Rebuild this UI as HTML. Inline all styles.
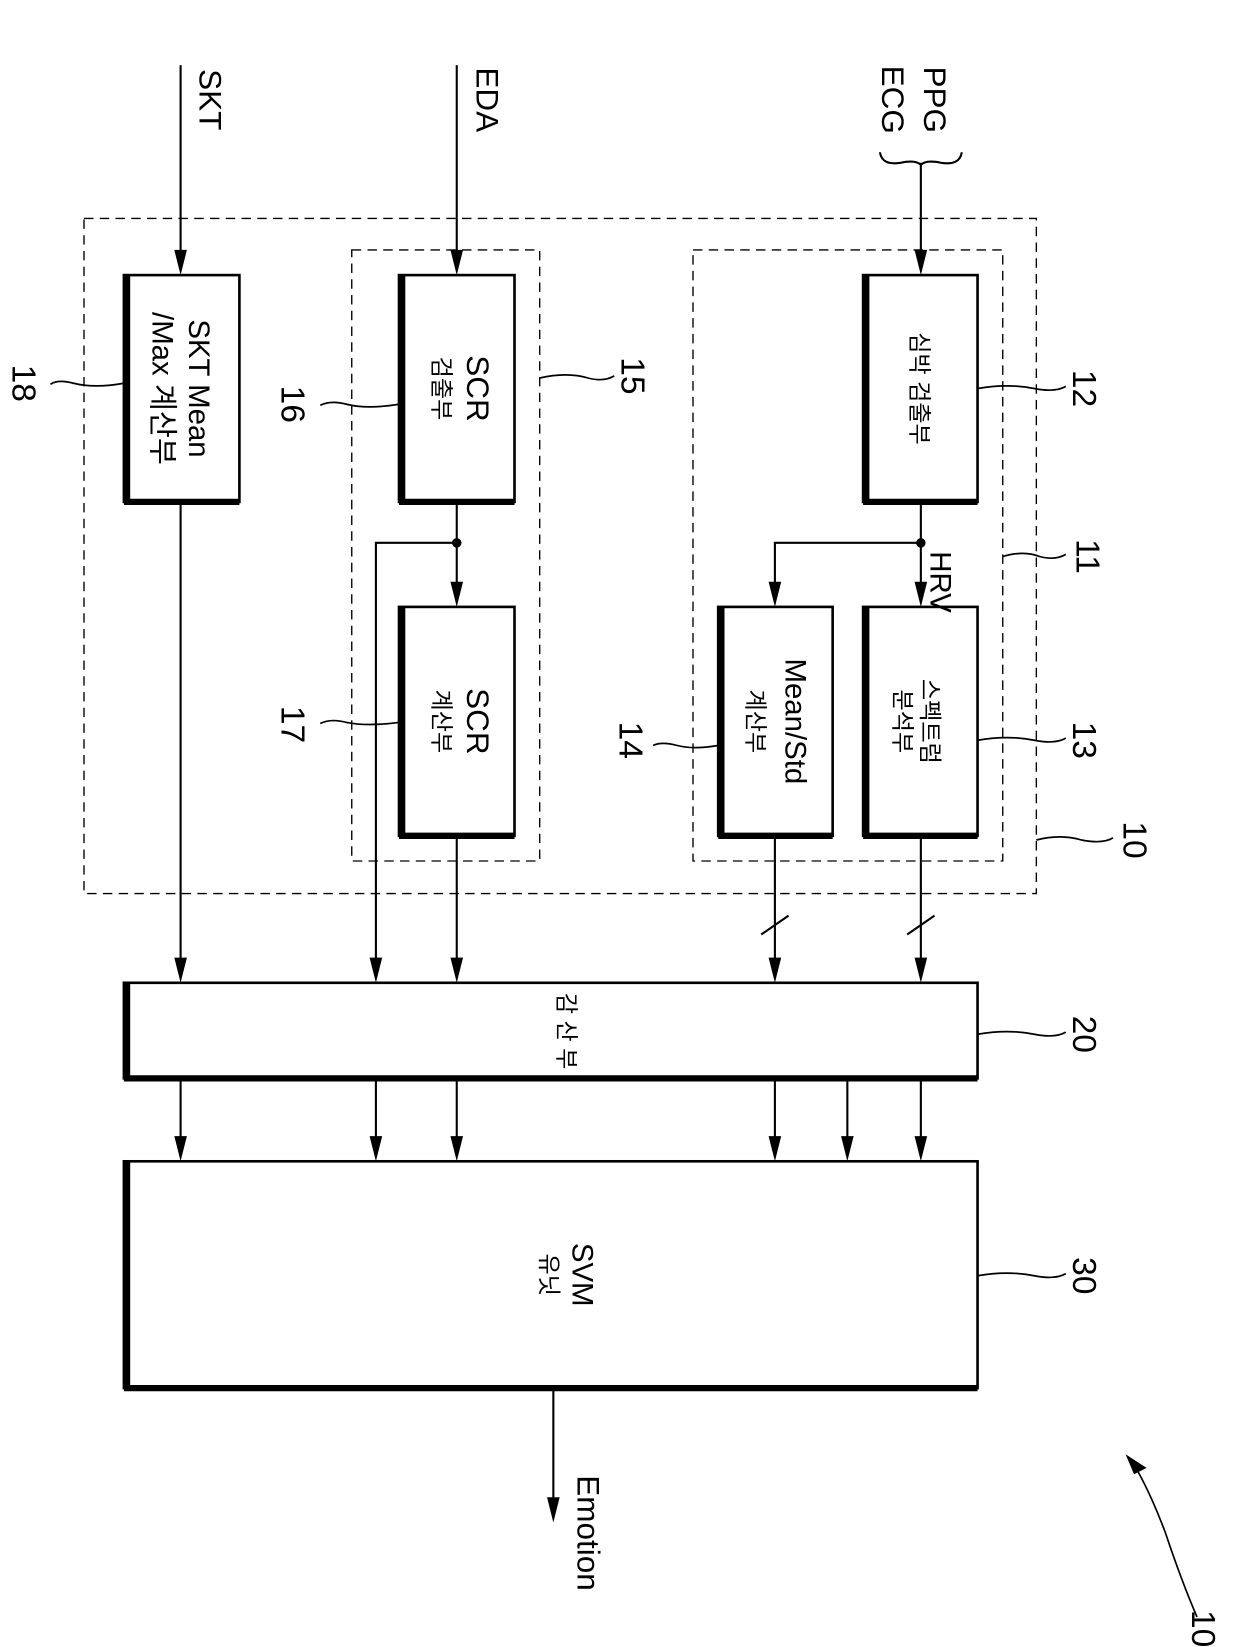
<!DOCTYPE html>
<html><head><meta charset="utf-8"><style>
html,body{margin:0;padding:0;background:#fff;}
svg{display:block;}
text{font-family:"Liberation Sans","Noto Sans CJK KR",sans-serif;fill:#000;}
</style></head><body>
<svg width="1240" height="1647" viewBox="0 0 1240 1647" xmlns="http://www.w3.org/2000/svg">
<defs>
<marker id="ar" markerWidth="12" markerHeight="24" refX="6" refY="22" orient="auto" markerUnits="userSpaceOnUse">
<path d="M0,0 L12,0 L6,24 Z" fill="#000" transform="rotate(0)"/>
</marker>
</defs>
<g transform="scale(1.05)">
<g fill="none" stroke="#000" stroke-width="1.3" stroke-dasharray="9,6">
<rect x="80" y="208" width="907" height="643"/>
<rect x="335" y="238" width="179" height="582"/>
<rect x="660" y="238" width="295" height="582"/>
</g>
<g fill="#fff" stroke="#000" stroke-width="2.5">
<rect x="118" y="262" width="110" height="216"/>
<rect x="380" y="262" width="110" height="216"/>
<rect x="380" y="578" width="110" height="218"/>
<rect x="684" y="578" width="109" height="218"/>
<rect x="822" y="262" width="109" height="216"/>
<rect x="822" y="578" width="109" height="218"/>
<rect x="118" y="936" width="813" height="91"/>
<rect x="118" y="1106" width="813" height="216"/>
</g>
<g stroke="#000" stroke-width="6" fill="none">
<path d="M121,262 V478 H228"/>
<path d="M383,262 V478 H490"/>
<path d="M383,578 V796 H490"/>
<path d="M687,578 V796 H793"/>
<path d="M825,262 V478 H931"/>
<path d="M825,578 V796 H931"/>
<path d="M121,936 V1027 H931"/>
<path d="M121,1106 V1322 H931"/>
</g>
<g stroke="#000" stroke-width="2" fill="none">
<line x1="172" y1="62" x2="172" y2="240"/>
<line x1="435" y1="62" x2="435" y2="240"/>
<line x1="877" y1="155" x2="877" y2="240"/>
<path d="M838,145 Q840,158 858,155 Q872,152 877,157 Q882,152 896,155 Q914,158 916,145"/>
<line x1="877" y1="478" x2="877" y2="556"/>
<path d="M877,517 H738 V556"/>
<line x1="435" y1="478" x2="435" y2="556"/>
<path d="M435,517 H358 V914"/>
<line x1="877" y1="796" x2="877" y2="914"/>
<line x1="738" y1="796" x2="738" y2="914"/>
<line x1="435" y1="796" x2="435" y2="914"/>
<line x1="172" y1="478" x2="172" y2="914"/>
<line x1="864" y1="890" x2="890" y2="872"/>
<line x1="725" y1="890" x2="751" y2="872"/>
<line x1="172" y1="1027" x2="172" y2="1084"/>
<line x1="358" y1="1027" x2="358" y2="1084"/>
<line x1="435" y1="1027" x2="435" y2="1084"/>
<line x1="738" y1="1027" x2="738" y2="1084"/>
<line x1="807" y1="1027" x2="807" y2="1084"/>
<line x1="877" y1="1027" x2="877" y2="1084"/>
<line x1="527" y1="1322" x2="527" y2="1428"/>
</g>
<g fill="#000">
<circle cx="877" cy="517" r="4.5"/>
<circle cx="435" cy="517" r="4.5"/>
<path d="M166,238 L178,238 L172,262 Z"/>
<path d="M429,238 L441,238 L435,262 Z"/>
<path d="M871,238 L883,238 L877,262 Z"/>
<path d="M871,554 L883,554 L877,578 Z"/>
<path d="M732,554 L744,554 L738,578 Z"/>
<path d="M429,554 L441,554 L435,578 Z"/>
<path d="M871,912 L883,912 L877,936 Z"/>
<path d="M732,912 L744,912 L738,936 Z"/>
<path d="M429,912 L441,912 L435,936 Z"/>
<path d="M352,912 L364,912 L358,936 Z"/>
<path d="M166,912 L178,912 L172,936 Z"/>
<path d="M166,1082 L178,1082 L172,1106 Z"/>
<path d="M352,1082 L364,1082 L358,1106 Z"/>
<path d="M429,1082 L441,1082 L435,1106 Z"/>
<path d="M732,1082 L744,1082 L738,1106 Z"/>
<path d="M801,1082 L813,1082 L807,1106 Z"/>
<path d="M871,1082 L883,1082 L877,1106 Z"/>
<path d="M521,1426 L533,1426 L527,1450 Z"/>
<path d="M1072,1385 L1092,1398 L1080,1404 Z"/>
</g>
<g stroke="#000" stroke-width="1.6" fill="none">
<path d="M931,370 Q960,365 985,370 Q1005,374 1015,368"/>
<path d="M931,705 Q960,700 985,705 Q1005,709 1015,703"/>
<path d="M955,530 Q975,524 990,530 Q1005,534 1015,528"/>
<path d="M987,800 Q1010,794 1030,800 Q1050,804 1060,798"/>
<path d="M684,710 Q660,714 645,710 Q630,706 622,710"/>
<path d="M514,360 Q540,354 560,360 Q575,364 585,358"/>
<path d="M380,385 Q350,390 330,385 Q315,381 305,386"/>
<path d="M380,688 Q350,692 330,688 Q315,684 305,689"/>
<path d="M118,365 Q90,370 70,365 Q55,361 48,366"/>
<path d="M931,985 Q960,980 985,985 Q1005,989 1015,983"/>
<path d="M931,1215 Q960,1210 985,1215 Q1005,1219 1015,1213"/>
<path d="M1140,1540 Q1125,1505 1110,1460 Q1095,1420 1080,1395"/>
</g>
<g font-size="30">
<text transform="translate(190,95) rotate(90)" text-anchor="middle">SKT</text>
<text transform="translate(454,95) rotate(90)" text-anchor="middle">EDA</text>
<text transform="translate(880,95) rotate(90)" text-anchor="middle">PPG</text>
<text transform="translate(840,95) rotate(90)" text-anchor="middle">ECG</text>
<text transform="translate(886,525) rotate(90)" font-size="28">HRV</text>
<text transform="translate(550,1460) rotate(90)" text-anchor="middle">Emotion</text>
<text transform="translate(180,370) rotate(90)" text-anchor="middle" font-size="28">SKT Mean</text>
<text transform="translate(145,370) rotate(90)" text-anchor="middle" font-size="28">/Max 계산부</text>
<text transform="translate(445,370) rotate(90)" text-anchor="middle" font-size="30">SCR</text>
<text transform="translate(413,370) rotate(90)" text-anchor="middle" font-size="22">검출부</text>
<text transform="translate(445,687) rotate(90)" text-anchor="middle" font-size="30">SCR</text>
<text transform="translate(413,687) rotate(90)" text-anchor="middle" font-size="22">계산부</text>
<text transform="translate(868,370) rotate(90)" text-anchor="middle" font-size="22">심박  검출부</text>
<text transform="translate(878,687) rotate(90)" text-anchor="middle" font-size="22">스펙트럼</text>
<text transform="translate(852,687) rotate(90)" text-anchor="middle" font-size="22">분석부</text>
<text transform="translate(748,687) rotate(90)" text-anchor="middle" font-size="28">Mean/Std</text>
<text transform="translate(712,687) rotate(90)" text-anchor="middle" font-size="22">계산부</text>
<text transform="translate(532,982) rotate(90)" text-anchor="middle" font-size="22">감 산 부</text>
<text transform="translate(545,1214) rotate(90)" text-anchor="middle" font-size="28">SVM</text>
<text transform="translate(515,1214) rotate(90)" text-anchor="middle" font-size="22">유닛</text>
<text transform="translate(1022,370) rotate(90)" text-anchor="middle" font-size="32">12</text>
<text transform="translate(1022,705) rotate(90)" text-anchor="middle" font-size="32">13</text>
<text transform="translate(1025,530) rotate(90)" text-anchor="middle" font-size="32">11</text>
<text transform="translate(1070,800) rotate(90)" text-anchor="middle" font-size="32">10</text>
<text transform="translate(590,705) rotate(90)" text-anchor="middle" font-size="32">14</text>
<text transform="translate(592,358) rotate(90)" text-anchor="middle" font-size="32">15</text>
<text transform="translate(268,385) rotate(90)" text-anchor="middle" font-size="32">16</text>
<text transform="translate(268,690) rotate(90)" text-anchor="middle" font-size="32">17</text>
<text transform="translate(12,365) rotate(90)" text-anchor="middle" font-size="32">18</text>
<text transform="translate(1022,985) rotate(90)" text-anchor="middle" font-size="32">20</text>
<text transform="translate(1022,1215) rotate(90)" text-anchor="middle" font-size="32">30</text>
<text transform="translate(1135,1560) rotate(90)" text-anchor="middle" font-size="32">100</text>
</g>
</g>
</svg>
</body></html>
